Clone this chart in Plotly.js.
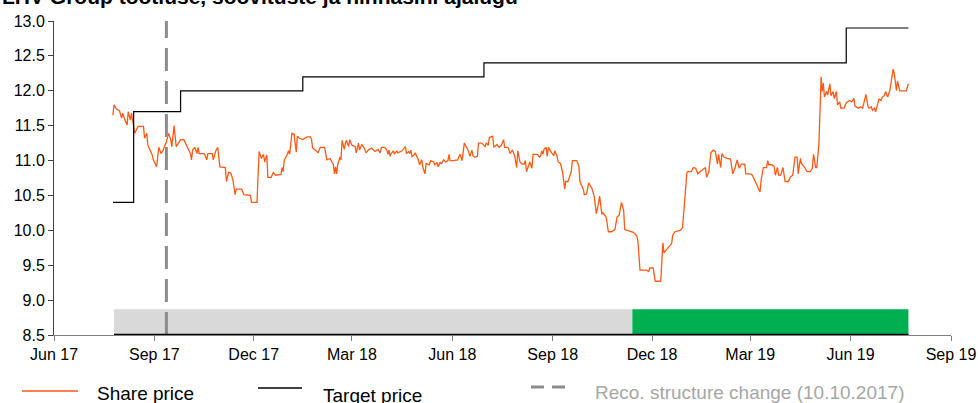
<!DOCTYPE html>
<html>
<head>
<meta charset="utf-8">
<script src="https://cdn.plot.ly/plotly-3.0.1.min.js"></script>
<style>html,body{margin:0;padding:0;background:#fff;}#chart{width:978px;height:403px;}</style>
</head>
<body>
<div id="chart"></div>
<script>
// ---------- DATA ----------
const chartTitle = 'LHV Group tootluse, soovituste ja hinnasihi ajalugu';

const priceDates = [
'2017-07-25','2017-07-26','2017-07-28','2017-07-31','2017-08-02','2017-08-03','2017-08-05','2017-08-07','2017-08-08','2017-08-10',
'2017-08-11','2017-08-13','2017-08-14','2017-08-17','2017-08-22','2017-08-23','2017-08-25','2017-08-26','2017-08-28','2017-08-30',
'2017-08-31','2017-09-03','2017-09-05','2017-09-07','2017-09-09','2017-09-12','2017-09-14','2017-09-16','2017-09-17','2017-09-19',
'2017-09-21','2017-09-23','2017-09-25','2017-09-28','2017-10-01','2017-10-04','2017-10-05','2017-10-06','2017-10-08','2017-10-10',
'2017-10-11','2017-10-12','2017-10-16','2017-10-17','2017-10-19','2017-10-20','2017-10-24','2017-10-25','2017-10-27','2017-10-29',
'2017-10-31','2017-11-05','2017-11-06','2017-11-08','2017-11-10','2017-11-12','2017-11-14','2017-11-15','2017-11-20','2017-11-22',
'2017-11-28','2017-11-29','2017-12-04','2017-12-06','2017-12-08','2017-12-10','2017-12-11','2017-12-13','2017-12-14','2017-12-17',
'2017-12-19','2017-12-21','2017-12-26','2017-12-27','2017-12-28','2017-12-29','2017-12-31','2018-01-02','2018-01-03','2018-01-05',
'2018-01-07','2018-01-09','2018-01-10','2018-01-12','2018-01-15','2018-01-19','2018-01-22',
'2018-01-23','2018-01-24','2018-01-26','2018-01-28','2018-01-29','2018-01-31','2018-02-04','2018-02-06','2018-02-09','2018-02-10',
'2018-02-12','2018-02-13','2018-02-14','2018-02-15','2018-02-16','2018-02-18','2018-02-19','2018-02-20','2018-02-22','2018-02-23',
'2018-02-24','2018-02-26','2018-02-27','2018-03-01','2018-03-04','2018-03-05','2018-03-07','2018-03-08','2018-03-10','2018-03-12',
'2018-03-14','2018-03-16','2018-03-19','2018-03-22','2018-03-25','2018-03-27','2018-03-28','2018-03-31','2018-04-02','2018-04-03',
'2018-04-04','2018-04-05','2018-04-06','2018-04-08','2018-04-09','2018-04-11','2018-04-12','2018-04-16','2018-04-19','2018-04-20',
'2018-04-22','2018-04-23','2018-04-24','2018-04-25','2018-04-27','2018-04-28','2018-04-30','2018-05-01','2018-05-02','2018-05-04',
'2018-05-05','2018-05-07','2018-05-08','2018-05-11','2018-05-12','2018-05-15','2018-05-16','2018-05-18','2018-05-19','2018-05-21',
'2018-05-22','2018-05-24','2018-05-26','2018-05-28','2018-05-29','2018-05-30','2018-06-02','2018-06-06','2018-06-08','2018-06-10',
'2018-06-12','2018-06-14','2018-06-16','2018-06-17','2018-06-19','2018-06-20','2018-06-22','2018-06-24','2018-06-25','2018-06-28',
'2018-07-01','2018-07-02','2018-07-04','2018-07-05','2018-07-08','2018-07-09','2018-07-12','2018-07-14','2018-07-16','2018-07-18',
'2018-07-19',
'2018-07-22','2018-07-24','2018-07-26','2018-07-28','2018-07-30','2018-07-31','2018-08-02','2018-08-04','2018-08-06','2018-08-07',
'2018-08-08','2018-08-10','2018-08-11','2018-08-13','2018-08-14','2018-08-15','2018-08-18','2018-08-20','2018-08-21','2018-08-22',
'2018-08-23','2018-08-24','2018-08-26','2018-08-27','2018-08-28','2018-08-31','2018-09-02','2018-09-03','2018-09-05','2018-09-06',
'2018-09-08','2018-09-10','2018-09-12','2018-09-13','2018-09-15','2018-09-18','2018-09-19','2018-09-23','2018-09-25','2018-09-26',
'2018-09-29','2018-09-30','2018-10-02','2018-10-04','2018-10-07','2018-10-09','2018-10-11','2018-10-13','2018-10-14','2018-10-16',
'2018-10-17','2018-10-20','2018-10-22','2018-10-25','2018-10-28','2018-10-30','2018-11-01','2018-11-03','2018-11-05','2018-11-06',
'2018-11-11','2018-11-14','2018-11-17','2018-11-18','2018-11-20','2018-11-26','2018-11-28','2018-11-29','2018-12-02','2018-12-04',
'2018-12-09','2018-12-11','2018-12-12','2018-12-14','2018-12-17','2018-12-19','2018-12-20','2018-12-22','2018-12-27','2018-12-29',
'2019-01-02','2019-01-03','2019-01-06','2019-01-08','2019-01-10',
'2019-01-12','2019-01-14','2019-01-17','2019-01-19','2019-01-20','2019-01-22','2019-01-24','2019-01-26','2019-01-28','2019-01-30',
'2019-01-31','2019-02-02','2019-02-03','2019-02-05','2019-02-08','2019-02-11','2019-02-13','2019-02-15','2019-02-17','2019-02-19',
'2019-02-21','2019-02-24','2019-02-25','2019-03-01','2019-03-03','2019-03-05','2019-03-07','2019-03-09','2019-03-10','2019-03-11',
'2019-03-13','2019-03-16','2019-03-17','2019-03-18','2019-03-21','2019-03-23','2019-03-24','2019-03-26','2019-03-27','2019-03-29',
'2019-03-31','2019-04-02','2019-04-05','2019-04-07','2019-04-09','2019-04-11','2019-04-13','2019-04-14','2019-04-16','2019-04-17',
'2019-04-20','2019-04-22','2019-04-25','2019-04-27','2019-04-28','2019-04-30','2019-05-01','2019-05-03','2019-05-05','2019-05-06',
'2019-05-07','2019-05-08','2019-05-10','2019-05-11','2019-05-13','2019-05-14','2019-05-16','2019-05-17','2019-05-19','2019-05-20',
'2019-05-22','2019-05-23','2019-05-26','2019-05-28','2019-05-31','2019-06-02','2019-06-04','2019-06-05','2019-06-08','2019-06-10',
'2019-06-12','2019-06-14','2019-06-15','2019-06-17','2019-06-18','2019-06-20','2019-06-21','2019-06-23','2019-06-24','2019-06-27',
'2019-06-29','2019-06-30','2019-07-02','2019-07-03','2019-07-05','2019-07-07','2019-07-09','2019-07-10','2019-07-11','2019-07-13',
'2019-07-14','2019-07-16','2019-07-22','2019-07-24'
];

const priceValues = [
11.65,11.80,11.74,11.71,11.61,11.68,11.58,11.51,11.70,11.58,
11.68,11.49,11.39,11.49,11.49,11.32,11.39,11.22,11.15,11.08,
11.01,10.91,11.19,11.10,11.15,11.27,11.39,11.30,11.20,11.50,
11.20,11.25,11.30,11.30,11.20,11.10,11.01,11.15,11.19,11.10,
11.19,11.10,11.10,11.09,11.01,11.10,11.10,11.01,11.13,11.19,
10.91,10.90,10.70,10.83,10.82,10.72,10.51,10.59,10.59,10.51,
10.50,10.40,10.40,11.13,11.03,11.09,10.98,11.08,10.76,10.76,
10.83,10.79,10.80,10.90,10.84,11.01,11.06,11.14,11.09,11.39,
11.38,11.12,11.35,11.32,11.30,11.34,11.34,
11.30,11.18,11.16,11.13,11.11,11.19,11.19,11.01,11.03,11.00,
10.94,10.81,10.91,10.81,10.94,11.05,11.01,11.29,11.16,11.25,
11.29,11.20,11.30,11.22,11.20,11.11,11.25,11.15,11.23,11.19,
11.11,11.15,11.18,11.13,11.16,11.11,11.19,11.19,11.15,11.09,
11.15,11.06,11.10,11.14,11.09,11.14,11.11,11.14,11.20,11.10,
11.13,11.10,11.15,11.06,11.08,11.11,11.03,11.01,10.94,11.01,
10.90,10.81,10.96,10.94,11.00,10.98,10.94,10.97,10.91,10.98,
10.95,11.01,10.98,11.00,11.09,11.00,11.00,11.01,11.09,11.00,
11.25,11.18,11.13,11.06,11.15,11.06,11.05,11.06,11.25,11.25,
11.20,11.25,11.22,11.33,11.35,11.19,11.23,11.19,11.22,11.30,
11.19,
11.19,11.10,11.15,11.08,10.90,11.14,10.98,10.95,10.95,11.00,
10.84,10.96,10.98,10.89,11.09,11.09,11.09,11.05,11.07,11.14,
11.09,11.16,11.19,11.06,11.19,11.11,11.07,11.14,11.06,10.98,
10.96,10.84,10.59,10.70,10.70,10.84,11.00,11.00,10.92,10.70,
10.59,10.51,10.52,10.68,10.60,10.49,10.24,10.39,10.49,10.23,
10.25,10.19,9.98,9.98,10.01,10.19,10.22,10.40,10.29,10.01,
9.98,9.97,9.92,9.86,9.43,9.43,9.41,9.46,9.46,9.27,
9.27,9.82,9.68,9.72,9.77,9.81,9.93,9.98,10.00,10.04,
10.83,10.84,10.84,10.90,10.89,
10.81,10.84,10.87,10.90,10.76,10.83,11.11,11.15,11.13,10.95,
11.09,10.90,11.10,11.05,11.03,11.02,10.81,10.89,11.01,10.89,
10.95,10.95,10.81,10.81,10.79,10.72,10.65,10.60,10.55,10.72,
10.90,10.90,11.00,10.94,10.94,10.91,10.79,10.90,10.79,10.79,
10.90,10.70,10.70,10.77,10.79,11.05,11.05,10.81,11.03,10.96,
10.90,10.84,10.84,10.89,11.09,10.90,10.90,11.25,12.20,11.99,
12.11,11.91,11.99,11.94,12.10,11.93,11.99,11.89,11.99,11.80,
11.84,11.75,11.75,11.83,11.86,11.84,11.89,11.78,11.75,11.77,
11.75,11.88,11.95,11.77,11.75,11.77,11.72,11.75,11.70,11.88,
11.86,11.91,11.93,11.99,11.91,12.01,12.27,12.31,12.25,12.00,
12.14,12.00,12.00,12.10
];

// Target price (step changes)
const targetDates  = ['2017-07-25','2017-08-13','2017-09-25','2018-01-15','2018-06-30','2019-05-28','2019-07-24'];
const targetValues = [10.4, 11.7, 12.0, 12.2, 12.4, 12.9, 12.9];

// Recommendation bands
const recoStarts = ['2017-07-26','2018-11-13'];
const recoEnds   = ['2018-11-13','2019-07-24'];
const recoColors = ['#d9d9d9','#00b050'];
const recoBandTop = 8.87;

// Reco structure change marker
const recoChangeDate = '2017-09-12';

// Axes
const yRange = [8.5, 13.0];
const xRange = ['2017-06-01','2019-09-01'];
const xTickVals = ['2017-06-01','2017-09-01','2017-12-01','2018-03-01','2018-06-01','2018-09-01','2018-12-01','2019-03-01','2019-06-01','2019-09-01'];
const xTickText = ['Jun 17','Sep 17','Dec 17','Mar 18','Jun 18','Sep 18','Dec 18','Mar 19','Jun 19','Sep 19'];

const legendLabels = ['Share price','Target price','Reco. structure change (10.10.2017)'];

// ---------- STYLE / LAYOUT ----------
const FONT = 'Liberation Sans, Arial, sans-serif';
const W = 978, H = 403;
const M = {l: 54, r: 27, t: 21, b: 68};
const PW = W - M.l - M.r, PH = H - M.t - M.b;
const px = v => (v - M.l) / PW;          // page x pixel -> paper
const py = v => (H - M.b - v) / PH;      // page y pixel -> paper

const ORANGE = '#ff5a14';
const GREY_DASH = '#8c8c8c';

const traces = [
  {x: priceDates, y: priceValues, type: 'scatter', mode: 'lines',
   line: {color: ORANGE, width: 1.3}, hoverinfo: 'skip', showlegend: false},
  {x: targetDates, y: targetValues, type: 'scatter', mode: 'lines',
   line: {color: '#000000', width: 1.2, shape: 'hv'}, hoverinfo: 'skip', showlegend: false},
  {x: [recoChangeDate, recoChangeDate], y: yRange, type: 'scatter', mode: 'lines',
   line: {color: GREY_DASH, width: 3, dash: '23px,10px'}, hoverinfo: 'skip', showlegend: false}
];

const shapes = [];
recoStarts.forEach((s, i) => {
  shapes.push({type: 'rect', xref: 'x', yref: 'y', x0: s, x1: recoEnds[i], y0: yRange[0], y1: recoBandTop,
               fillcolor: recoColors[i], line: {width: 0}, layer: 'below'});
});
shapes.push({type: 'line', xref: 'x', yref: 'y', x0: recoStarts[0], x1: recoEnds[recoEnds.length - 1],
             y0: yRange[0], y1: yRange[0], line: {color: '#000', width: 2.5}, layer: 'above'});
// legend symbols
shapes.push({type: 'line', xref: 'paper', yref: 'paper', x0: px(22), x1: px(78), y0: py(391), y1: py(391),
             line: {color: ORANGE, width: 1.3}});
shapes.push({type: 'line', xref: 'paper', yref: 'paper', x0: px(258), x1: px(302), y0: py(388), y1: py(388),
             line: {color: '#000', width: 1.3}});
shapes.push({type: 'line', xref: 'paper', yref: 'paper', x0: px(531), x1: px(566), y0: py(387), y1: py(387),
             line: {color: GREY_DASH, width: 3, dash: '13px,8px'}});

const annotations = [
  {text: '<b>' + chartTitle + '</b>', xref: 'paper', yref: 'paper', x: px(0), y: py(10),
   xanchor: 'left', yanchor: 'bottom', showarrow: false, font: {family: FONT, size: 21, color: '#000'}},
  {text: legendLabels[0], xref: 'paper', yref: 'paper', x: px(95), y: py(393), xanchor: 'left', yanchor: 'middle',
   showarrow: false, font: {family: FONT, size: 19, color: '#000'}},
  {text: legendLabels[1], xref: 'paper', yref: 'paper', x: px(321), y: py(395), xanchor: 'left', yanchor: 'middle',
   showarrow: false, font: {family: FONT, size: 19, color: '#000'}},
  {text: legendLabels[2], xref: 'paper', yref: 'paper', x: px(593), y: py(392), xanchor: 'left', yanchor: 'middle',
   showarrow: false, font: {family: FONT, size: 19, color: '#a6a6a6'}}
];

const layout = {
  width: W, height: H,
  margin: M,
  paper_bgcolor: '#fff', plot_bgcolor: '#fff',
  showlegend: false,
  font: {family: FONT, size: 16, color: '#000'},
  xaxis: {type: 'date', range: xRange, tickvals: xTickVals, ticktext: xTickText,
          showgrid: false, zeroline: false, showline: true, linecolor: '#7f7f7f', linewidth: 1,
          ticks: 'outside', ticklen: 5, tickcolor: '#7f7f7f', tickfont: {family: FONT, size: 16, color: '#000'}},
  yaxis: {range: yRange, dtick: 0.5, tick0: 8.5, tickformat: '.1f',
          showgrid: false, zeroline: false, showline: true, linecolor: '#404040', linewidth: 1,
          ticks: 'outside', ticklen: 5, tickcolor: '#404040', tickfont: {family: FONT, size: 16, color: '#000'}},
  shapes: shapes,
  annotations: annotations
};

Plotly.newPlot('chart', traces, layout, {displayModeBar: false, staticPlot: true});
</script>
</body>
</html>
